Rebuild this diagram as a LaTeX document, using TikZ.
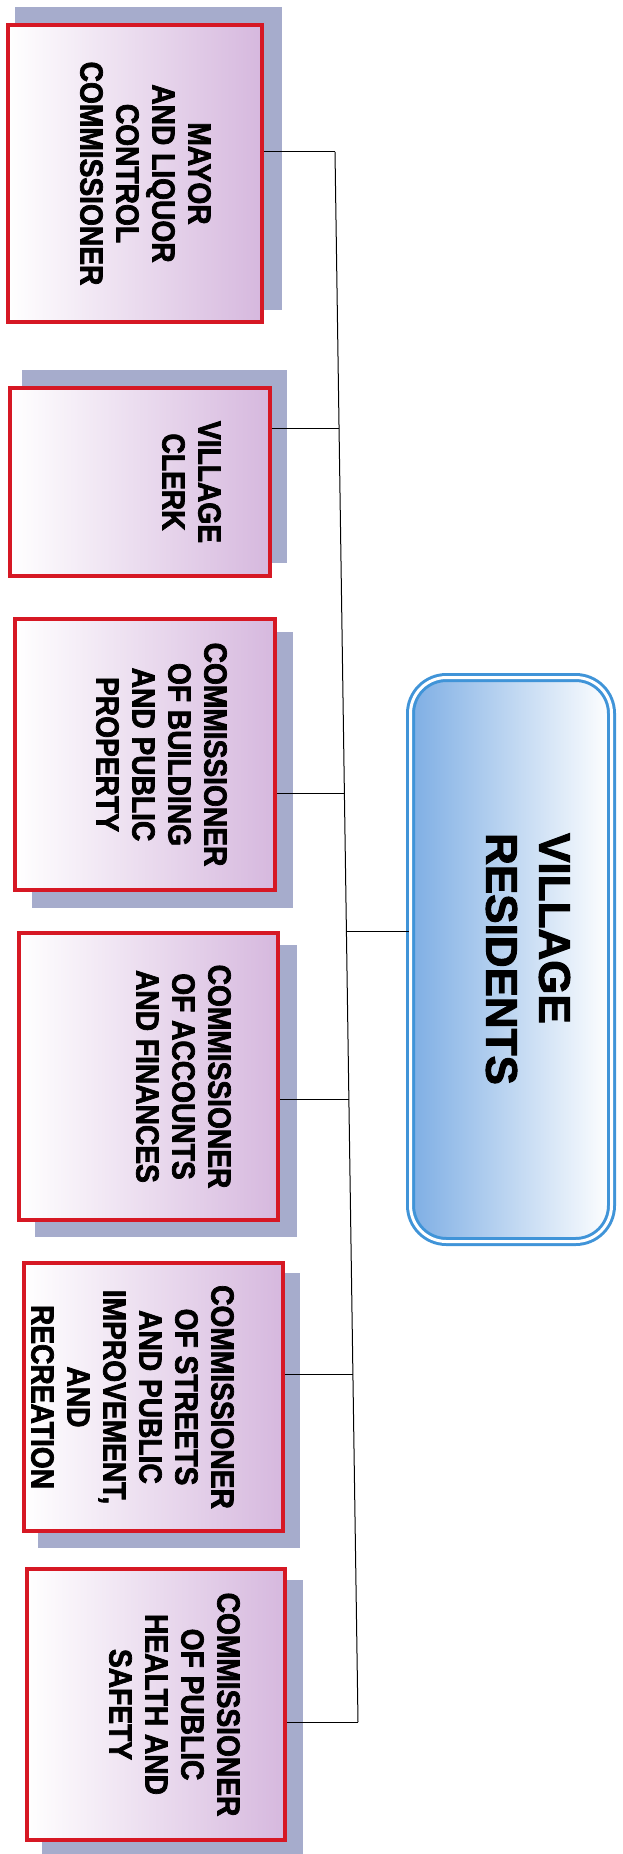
\documentclass[tikz,border=0pt]{standalone}
\usepackage{fontspec}
\setmainfont{Liberation Sans}
\newfontfamily\heavyfont{Liberation Sans Bold}[FakeBold=2.2]
\newfontfamily\officefont{Liberation Sans Bold}[FakeBold=2.2, FakeStretch=0.88]
\usetikzlibrary{calc}
\definecolor{boxred}{RGB}{214,24,36}
\definecolor{boxlav}{RGB}{214,184,222}
\definecolor{shadowblue}{RGB}{166,172,204}
\definecolor{resline}{RGB}{64,148,216}
\definecolor{resfill}{RGB}{126,174,228}
\begin{document}
\begin{tikzpicture}[x=1pt,y=-1pt,
  boxshadow/.style={fill=shadowblue},
  office/.style={draw=boxred, line width=4pt, inner sep=0pt, left color=white, middle color=boxlav!80!white, right color=boxlav},
  officetext/.style={font=\officefont\fontsize{32}{36}\selectfont, align=center, rotate=-90, anchor=north, inner sep=0pt},
  residents/.style={draw=resline, double=white, double distance=3pt, line width=3pt, rounded corners=36pt, inner sep=0pt, left color=resfill, middle color=resfill!60!white, right color=white},
  restext/.style={font=\heavyfont\fontsize{44}{53}\selectfont, align=left, rotate=-90, inner sep=0pt},
  bus/.style={line width=1pt}]
  \useasboundingbox (0,0) rectangle (623,1854);
  \fill[boxshadow] (15,7) rectangle (282,310);
  \fill[boxshadow] (22,370) rectangle (287,563);
  \fill[boxshadow] (32,632) rectangle (293,908);
  \fill[boxshadow] (35,945) rectangle (297,1237);
  \fill[boxshadow] (38,1273) rectangle (300,1548);
  \fill[boxshadow] (42,1580) rectangle (303,1854);
  \node[office, minimum width=254pt, minimum height=297pt] (m1) at (135,173.5) {};
  \node[office, minimum width=260pt, minimum height=188pt] (m2) at (140,482) {};
  \node[office, minimum width=260pt, minimum height=271pt] (m3) at (145,754.5) {};
  \node[office, minimum width=259pt, minimum height=287pt] (m4) at (148.5,1076.5) {};
  \node[office, minimum width=259pt, minimum height=268pt] (m5) at (153.5,1397) {};
  \node[office, minimum width=258pt, minimum height=271pt] (m6) at (156,1704.5) {};
  \node[officetext] (t1) at ([xshift=-53pt]m1.east) {MAYOR\\AND LIQUOR\\CONTROL\\COMMISSIONER};
  \node[officetext] (t2) at ([xshift=-51pt]m2.east) {VILLAGE\\CLERK};
  \node[officetext] (t3) at ([xshift=-50pt]m3.east) {COMMISSIONER\\OF BUILDING\\AND PUBLIC\\PROPERTY};
  \node[officetext] (t4) at ([xshift=-49pt]m4.east) {COMMISSIONER\\OF ACCOUNTS\\AND FINANCES};
  \node[officetext] (t5) at ([xshift=-51pt]m5.east) {COMMISSIONER\\OF STREETS\\AND PUBLIC\\IMPROVEMENT,\\AND\\RECREATION};
  \node[officetext] (t6) at ([xshift=-47pt]m6.east) {COMMISSIONER\\OF PUBLIC\\HEALTH AND\\SAFETY};
  \node[residents, minimum width=201pt, minimum height=564pt] (res) at (511,959.5) {};
  \node[restext] (rt) at (528,959) {VILLAGE\\RESIDENTS};
  \coordinate (j1) at (335,152);
  \coordinate (j2) at (339,428);
  \coordinate (j3) at (344,793);
  \coordinate (j0) at (346,931);
  \coordinate (j4) at (349,1099);
  \coordinate (j5) at (353,1374);
  \coordinate (j6) at (358,1722);
  \draw[bus] (j1) -- (j6);
  \draw[bus] (m1.east |- j1) -- (j1);
  \draw[bus] (m2.east |- j2) -- (j2);
  \draw[bus] (m3.east |- j3) -- (j3);
  \draw[bus] (m4.east |- j4) -- (j4);
  \draw[bus] (m5.east |- j5) -- (j5);
  \draw[bus] (m6.east |- j6) -- (j6);
  \draw[bus] (j0) -- (j0 -| res.west);
\end{tikzpicture}
\end{document}
